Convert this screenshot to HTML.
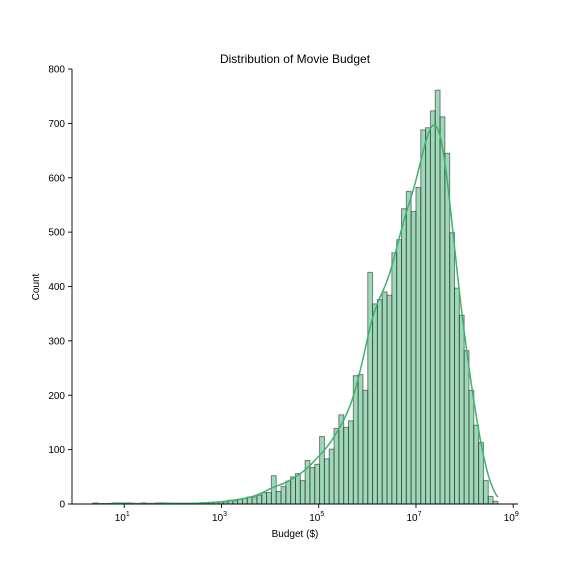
<!DOCTYPE html>
<html><head><meta charset="utf-8"><style>
body{margin:0;background:#fff;}
svg text{font-family:"Liberation Sans",sans-serif;fill:#000;}
</style></head><body>
<svg id="chart" width="576" height="576" xmlns="http://www.w3.org/2000/svg">
<rect width="576" height="576" fill="#fff"/>
<text x="295" y="63" font-size="12" text-anchor="middle">Distribution of Movie Budget</text>
<g id="bars"></g>
<path id="kde" fill="none" stroke="#3cb371" stroke-width="1.5"/>
<g id="axes"></g>
<text x="295" y="537" font-size="10" text-anchor="middle">Budget ($)</text>
<text x="39" y="287" font-size="10" text-anchor="middle" transform="rotate(-90 39 287)">Count</text>
</svg>
<script>
const counts=[2,0,0,0,2,2,1,2,0,0,2,0,0,2,2,1,1,1,1,1,1,1,2,2,3,3,4,4,7,6,9,10,13,13,16,21,21,52,23,32,42,50,56,43,80,67,73,124,83,101,139,164,141,153,236,238,209,426,368,376,390,384,462,486,543,575,538,582,688,692,723,761,712,645,499,397,347,282,209,145,113,43,14,5];
const binStartLog=[0.36];
const binWidthLog=[0.0991];
const yTicks=[0,100,200,300,400,500,600,700,800];
const xTickExps=[1,3,5,7,9];
const NS="http://www.w3.org/2000/svg";
const X0=72,X1=518,Y0=504,Y1=69;
function xs(l){return 75.6+48.625*l;}
function ys(v){return Y0-(v/800)*(Y0-Y1);}
const bars=document.getElementById('bars');
counts.forEach((c,i)=>{
 if(c<=0)return;
 const l0=binStartLog[0]+i*binWidthLog[0],l1=l0+binWidthLog[0];
 const r=document.createElementNS(NS,'rect');
 r.setAttribute('x',xs(l0));r.setAttribute('width',xs(l1)-xs(l0));
 r.setAttribute('y',ys(c));r.setAttribute('height',ys(0)-ys(c));
 r.setAttribute('fill','rgba(60,179,113,0.5)');r.setAttribute('stroke','rgba(50,50,50,0.6)');r.setAttribute('stroke-width','1');
 
 
 bars.appendChild(r);
});
const sig=1.8;let pts=[];
for(let t=-1;t<=counts.length;t+=0.25){
 const norm=1/(Math.sqrt(2*Math.PI)*sig);
 let v=0;counts.forEach((c,i)=>{v+=c*norm*Math.exp(-((i+0.5-t)**2)/(2*sig*sig));});
 const l=binStartLog[0]+t*binWidthLog[0];
 if(xs(l)<xs(binStartLog[0])-2||xs(l)>xs(binStartLog[0]+counts.length*binWidthLog[0])+1)continue;
 pts.push(xs(l).toFixed(1)+','+ys(v).toFixed(1));
}
document.getElementById('kde').setAttribute('d','M'+pts.join('L'));
const ax=document.getElementById('axes');
function line(x1,y1,x2,y2,name){const e=document.createElementNS(NS,'line');e.setAttribute('x1',x1);e.setAttribute('y1',y1);e.setAttribute('x2',x2);e.setAttribute('y2',y2);e.setAttribute('stroke','#000');e.setAttribute('stroke-width','0.9');


ax.appendChild(e);}
line(X0,Y1,X0,Y0,'y-axis-line');line(X0,Y0,X1,Y0,'x-axis-line');
yTicks.forEach(v=>{line(X0-4,ys(v),X0,ys(v),'y-tick');const t=document.createElementNS(NS,'text');t.setAttribute('x',X0-7);t.setAttribute('y',ys(v)+3.5);t.setAttribute('font-size','10');t.setAttribute('text-anchor','end');t.textContent=v;


ax.appendChild(t);});
xTickExps.forEach(e=>{const x=xs(e);line(x,Y0,x,Y0+4,'x-tick');const t=document.createElementNS(NS,'text');t.setAttribute('x',x-2);t.setAttribute('y',Y0+17);t.setAttribute('font-size','10');t.setAttribute('text-anchor','middle');t.innerHTML='10<tspan dy="-5" font-size="7">'+e+'</tspan>';


ax.appendChild(t);});
</script>
</body></html>
